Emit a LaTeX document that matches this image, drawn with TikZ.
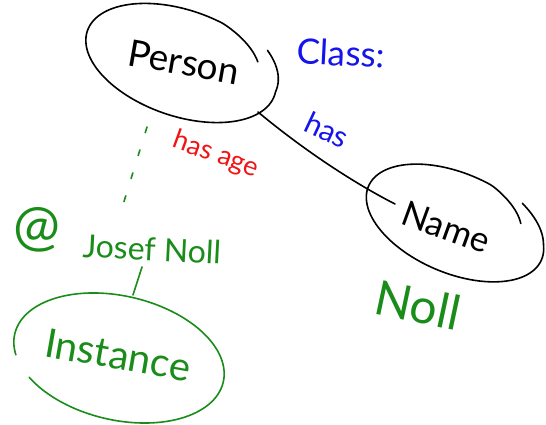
\documentclass[tikz,border=0pt]{standalone}
\usepackage{fontspec}
\setmainfont{Lato}
\definecolor{penblue}{RGB}{20,20,235}
\definecolor{penred}{RGB}{240,20,20}
\definecolor{pengreen}{RGB}{25,140,25}
% hand-drawn loop: centre, rotation, radii a/b, start/end angle, radius factor at start/end, style
\newcommand\penloop[9]{%
  \draw[#9, shift={#1}, rotate=#2]
    plot[smooth, samples=120, domain=#5:#6, variable=\t]
    ({#3*penr(\t,#5,#6,#7,#8)*cos(\t)}, {#4*penr(\t,#5,#6,#7,#8)*sin(\t)});%
}
\begin{document}
\begin{tikzpicture}[x=1pt, y=1pt,
  declare function={penr(\t,\s,\e,\p,\q)=1+(\p-1)*max(0,(\t-\s+40)/40)+(\q-1)*max(0,(\e+40-\t)/40);},
  ink/.style={line width=1.6pt, line cap=round, line join=round},
  word/.style={inner sep=0pt, font=\fontsize{#1}{#1}\selectfont},
  word/.default=30]
\useasboundingbox (0,0) rectangle (546,425);

% outlines
\penloop{(181,362)}{-19}{99}{53}{44}{-326}{1.09}{0.88}{ink}
\penloop{(455,202)}{-23}{94}{50}{57}{-322}{1.06}{0.82}{ink}
\penloop{(119,67)}{-13}{107}{62}{559}{219}{1}{1}{ink, pengreen}

% labels
\node[word=37, rotate=-10] (person) at (184,363) {Person};
\node[word=35, rotate=-3, penblue] (class) at (341,372) {Class:};
\node[word=30, rotate=-25, penblue] (hasrel) at (327,295) {has};
\node[word=27, rotate=-20, penred] (hasage) at (216,270) {has age};
\node[word=35, rotate=-20] (name) at (446,198) {Name};
\node[word=48, rotate=-12, pengreen] (noll) at (418,120) {Noll};
\node[word=56, pengreen] (at) at (37,195) {@};
\node[word=32, rotate=-3, pengreen] (josef) at (152,176) {Josef Noll};
\node[word=40, rotate=-10, pengreen] (instance) at (118,70) {Instance};

% connectors
\coordinate (person-out) at (258,313);
\coordinate (name-in) at (395,221);
\draw[ink] (person-out) .. controls (300,278) and (350,244) .. (name-in);

\coordinate (person-down) at (147,298);
\coordinate (josef-top) at (122,217);
\draw[ink, pengreen, dash pattern=on 6pt off 18pt] (person-down) -- (josef-top);

\coordinate (josef-f) at (142,158);
\coordinate (instance-top) at (133,130);
\draw[ink, pengreen] (josef-f) .. controls (138,144) .. (instance-top);
\end{tikzpicture}
\end{document}
